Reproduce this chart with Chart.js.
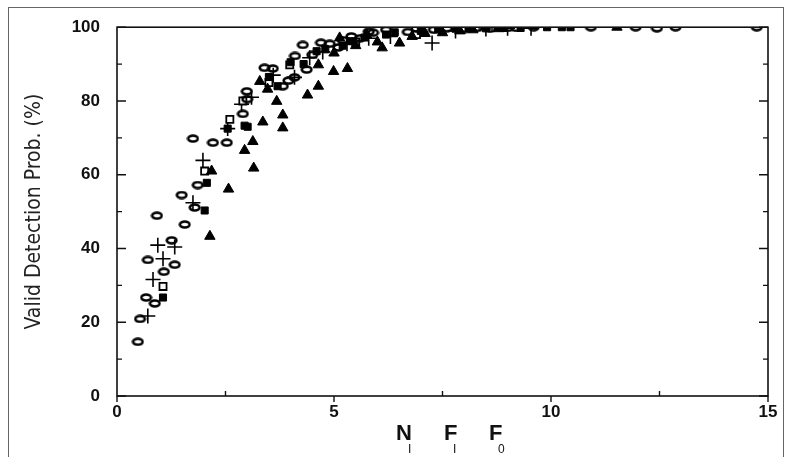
<!DOCTYPE html>
<html>
<head>
<meta charset="utf-8">
<script src="https://cdn.jsdelivr.net/npm/chart.js@4.4.1/dist/chart.umd.min.js"></script>
<style>
  html, body { margin: 0; padding: 0; background: #fff; }
  canvas { display: block; }
</style>
</head>
<body>
<canvas id="chart" width="794" height="457"></canvas>
<script>
// values: [N_I F_I F_0, valid detection prob %]
const diamonds = [
  [0.48, 14.7], [0.53, 20.9], [0.67, 26.7], [0.87, 25.1], [0.71, 36.9], [0.92, 48.9],
  [1.08, 33.7], [1.33, 35.6], [1.26, 42.2], [1.56, 46.5], [1.49, 54.5], [1.75, 69.8],
  [1.79, 51.1], [1.86, 57.2], [2.21, 68.7], [2.53, 68.7], [2.9, 76.5], [2.99, 82.6],
  [3.0, 80.5], [3.4, 89.0], [3.59, 88.8], [3.82, 84.0], [3.95, 85.5], [4.09, 86.4],
  [4.37, 88.5], [4.28, 95.2], [4.1, 92.2], [4.5, 92.5], [4.7, 95.8], [4.9, 95.5],
  [5.1, 94.5], [5.2, 96.5], [5.4, 97.5], [5.6, 97.0], [5.8, 98.8], [5.9, 98.5],
  [6.2, 99.3], [6.7, 98.7], [6.9, 99.6], [7.3, 99.3], [7.6, 99.7], [8.0, 99.5],
  [8.3, 99.8], [8.6, 99.6], [9.0, 99.8], [9.2, 99.8], [9.6, 100], [10.92, 100],
  [11.95, 100], [12.44, 99.7], [12.87, 100], [14.74, 100]
];
const pluses = [
  [0.71, 21.7], [0.83, 31.6], [1.06, 37.2], [0.94, 40.9], [1.33, 40.4], [1.75, 52.4],
  [1.98, 63.9], [2.55, 72.5], [2.87, 79.1], [3.1, 81.0], [3.6, 87.0], [4.09, 86.4],
  [4.44, 91.7], [4.74, 93.3], [5.3, 95.5], [5.8, 97.0], [6.3, 97.5], [7.26, 95.7],
  [7.8, 99.0], [8.5, 99.5], [9.0, 99.7], [9.54, 99.7]
];
const openSquares = [
  [1.06, 29.7], [2.02, 61.0], [2.6, 75.0], [2.9, 80.0], [3.5, 85.0], [3.98, 89.8],
  [5.5, 96.0], [6.9, 98.0]
];
const filledSquares = [
  [1.06, 26.7], [2.02, 50.3], [2.07, 57.8], [2.55, 72.5], [3.01, 73.0], [2.94, 73.3],
  [3.5, 86.5], [3.7, 84.0], [4.0, 90.5], [4.3, 90.0], [4.6, 93.5], [4.8, 94.0],
  [5.2, 95.0], [5.4, 96.2], [5.7, 97.2], [6.2, 98.0], [6.4, 98.6], [7.0, 99.0],
  [7.4, 99.4], [7.8, 99.6], [8.1, 99.7], [8.5, 99.7], [8.9, 99.8], [9.3, 99.8],
  [9.91, 100], [10.25, 100], [10.45, 100]
];
const triangles = [
  [2.14, 43.3], [2.18, 61.0], [2.57, 56.1], [2.94, 66.6], [3.13, 69.0], [3.15, 61.8],
  [3.36, 74.3], [3.82, 72.7], [3.82, 76.2], [3.29, 85.3], [3.68, 79.9], [3.47, 83.2],
  [4.39, 81.6], [4.64, 84.0], [4.99, 88.0], [5.31, 88.8], [4.64, 89.8], [5.0, 93.0],
  [5.13, 97.1], [5.5, 95.0], [5.75, 97.9], [6.0, 96.0], [6.11, 94.4], [6.51, 95.7],
  [6.8, 97.5], [7.1, 98.3], [7.5, 98.5], [7.9, 99.0], [8.2, 99.3], [8.8, 99.6],
  [11.52, 100]
];

const xTicks = [0, 5, 10, 15];
const yTicks = [0, 20, 40, 60, 80, 100];

const toPoints = (arr) => arr.map(([x, y]) => ({ x, y }));

// the "diamonds" in the scan print as small heavy open ovals
const ovalMark = () => {
  const c = document.createElement('canvas');
  c.width = 13; c.height = 9;
  const g = c.getContext('2d');
  g.strokeStyle = '#000';
  g.lineWidth = 2.6;
  g.beginPath();
  g.ellipse(6.5, 4.5, 4.8, 3.0, 0, 0, Math.PI * 2);
  g.stroke();
  return c;
};

const frame = {
  id: 'frame',
  afterDraw(chart) {
    const { ctx, chartArea: a, scales } = chart;
    const { x, y } = scales;
    ctx.save();
    // outer page border of the scan
    ctx.strokeStyle = '#666';
    ctx.lineWidth = 1;
    ctx.strokeRect(8.5, 7.5, 775, 460);

    ctx.strokeStyle = '#111';
    ctx.lineWidth = 1.6;
    ctx.strokeRect(a.left, a.top, a.right - a.left, a.bottom - a.top);

    ctx.lineWidth = 1.4;
    ctx.beginPath();
    for (let v = 0; v <= 100; v += 10) {
      const py = y.getPixelForValue(v);
      const len = v % 20 === 0 ? 9 : 5;
      ctx.moveTo(a.left, py); ctx.lineTo(a.left + len, py);
      ctx.moveTo(a.right, py); ctx.lineTo(a.right - len, py);
    }
    for (let v = 0; v <= 15; v += 2.5) {
      const px = x.getPixelForValue(v);
      if (v % 5 === 0) { ctx.moveTo(px, a.bottom); ctx.lineTo(px, a.bottom + 6); }
      else { ctx.moveTo(px, a.bottom); ctx.lineTo(px, a.bottom - 5); }
    }
    ctx.stroke();

    // axis title with subscripts: N_I F_I F_0
    ctx.fillStyle = '#111';
    ctx.textBaseline = 'alphabetic';
    ctx.textAlign = 'left';
    const parts = [['N', 'I', 396], ['F', 'I', 444], ['F', '0', 489]];
    for (const [big, sub, px] of parts) {
      ctx.font = 'bold 22px "Liberation Sans", Arial, sans-serif';
      ctx.fillText(big, px, 440);
      ctx.font = '12px "Liberation Sans", Arial, sans-serif';
      ctx.fillText(sub, px + (big === 'N' ? 12 : 9), 453);
    }
    ctx.restore();
  }
};

new Chart(document.getElementById('chart'), {
  type: 'scatter',
  data: {
    datasets: [
      { data: toPoints(diamonds), pointStyle: ovalMark(), pointRadius: 5 },
      { data: toPoints(triangles), pointStyle: 'triangle', pointRadius: 6,
        backgroundColor: '#000', borderColor: '#000', borderWidth: 1 },
      { data: toPoints(filledSquares), pointStyle: 'rect', pointRadius: 5,
        backgroundColor: '#000', borderColor: '#000', borderWidth: 1 },
      { data: toPoints(openSquares), pointStyle: 'rect', pointRadius: 5,
        backgroundColor: '#fff', borderColor: '#000', borderWidth: 1.8 },
      { data: toPoints(pluses), pointStyle: 'cross', pointRadius: 7.5,
        borderColor: '#000', borderWidth: 1.6 }
    ]
  },
  options: {
    responsive: false,
    animation: false,
    events: [],
    layout: { padding: { top: 22, right: 26, left: 22, bottom: 0 } },
    plugins: { legend: { display: false }, tooltip: { enabled: false } },
    scales: {
      x: {
        type: 'linear', min: 0, max: 15,
        afterFit: (s) => { s.height = 61; },
        afterBuildTicks: (s) => { s.ticks = xTicks.map((value) => ({ value })); },
        grid: { display: false, drawTicks: false },
        border: { display: false },
        ticks: {
          padding: 6, color: '#111',
          font: { family: '"Liberation Sans", Arial, sans-serif', size: 17, weight: 'bold' }
        }
      },
      y: {
        min: 0, max: 100,
        afterFit: (s) => { s.width = 95; },
        afterBuildTicks: (s) => { s.ticks = yTicks.map((value) => ({ value })); },
        grid: { display: false, drawTicks: false },
        border: { display: false },
        title: {
          display: true, text: 'Valid Detection Prob. (%)', color: '#222', padding: 0,
          font: { family: '"Liberation Sans Narrow", "Arial Narrow", "DejaVu Sans Condensed", sans-serif', size: 21 }
        },
        ticks: {
          padding: 17, color: '#111',
          font: { family: '"Liberation Sans", Arial, sans-serif', size: 17, weight: 'bold' }
        }
      }
    }
  },
  plugins: [frame]
});
</script>
</body>
</html>
